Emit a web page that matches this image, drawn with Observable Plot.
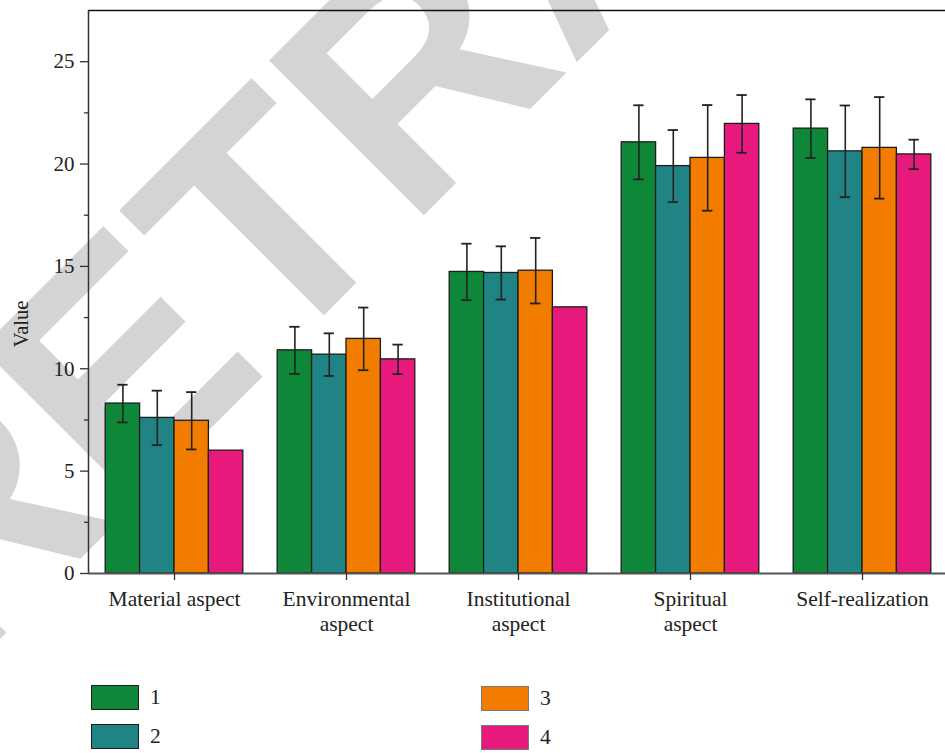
<!DOCTYPE html>
<html>
<head>
<meta charset="utf-8">
<script src="https://cdn.jsdelivr.net/npm/d3@7"></script>
<script src="https://cdn.jsdelivr.net/npm/@observablehq/plot@0.6"></script>
<style>
  html, body { margin: 0; padding: 0; background: #fff; }
  #chart { position: relative; width: 945px; height: 753px; overflow: hidden; }
  #chart > svg.wm { position: absolute; left: 0; top: 0; z-index: 0; }
  #chart > svg.plot-main { position: absolute; left: 0; top: 0; z-index: 1; }
  .legend-item { position: absolute; z-index: 2; display: flex; align-items: center;
    font-family: "Liberation Serif", serif; font-size: 21.5px; color: #222; }
  .legend-item .sw { width: 48px; height: 25px; box-sizing: border-box; margin-right: 11px; }
</style>
</head>
<body>
<div id="chart"></div>
<script>
// Categories along the x axis (line breaks as printed under the ticks)
const categories = ["Material aspect", "Environmental\naspect", "Institutional\naspect", "Spiritual\naspect", "Self-realization"];
const seriesNames = ["1", "2", "3", "4"];
const seriesColors = ["#0f8739", "#218484", "#f17c00", "#e8197d"];

// Mean values per series, one entry per category
const values1 = [8.3, 10.9, 14.73, 21.06, 21.73];
const values2 = [7.6, 10.69, 14.68, 19.9, 20.62];
const values3 = [7.46, 11.46, 14.79, 20.3, 20.79];
const values4 = [6.0, 10.46, 13.0, 21.96, 20.47];

// Error half-widths (null = no error bar)
const errors1 = [0.92, 1.15, 1.38, 1.81, 1.43];
const errors2 = [1.33, 1.04, 1.3, 1.76, 2.24];
const errors3 = [1.4, 1.53, 1.6, 2.58, 2.48];
const errors4 = [null, 0.72, null, 1.41, 0.72];

// Y axis
const yMax = 27.5;
const yTicks = [0, 5, 10, 15, 20, 25];
const yMinorTicks = [2.5, 7.5, 12.5, 17.5, 22.5];

const allValues = [values1, values2, values3, values4];
const allErrors = [errors1, errors2, errors3, errors4];

// Each category occupies one unit on x; its four bars fill 80% of it.
const groupWidth = 0.8;
const barWidth = groupWidth / seriesNames.length;
const capHalf = 0.03;

const rows = [];
categories.forEach((cat, i) => {
  seriesNames.forEach((s, k) => {
    const x1 = i - groupWidth / 2 + k * barWidth;
    const v = allValues[k][i];
    const e = allErrors[k][i];
    rows.push({
      category: cat, series: s, color: seriesColors[k],
      x1, x2: x1 + barWidth, xc: x1 + barWidth / 2,
      value: v, err: e,
      lo: e == null ? null : v - e, hi: e == null ? null : v + e
    });
  });
});
const errRows = rows.filter(d => d.err != null);

const axisStroke = "#333";

const plot = Plot.plot({
  width: 945,
  height: 660,
  marginTop: 10,
  marginLeft: 88,
  marginRight: -3,
  marginBottom: 87,
  x: { domain: [-0.5, categories.length - 0.5], axis: null },
  y: { domain: [0, yMax], axis: null },
  style: { background: "transparent", fontFamily: "Liberation Serif, serif", fontSize: "21px", color: "#222" },
  marks: [
    // bars
    Plot.rectY(rows, { x1: "x1", x2: "x2", y1: 0, y2: "value", fill: "color", stroke: "#1c1c1c", strokeWidth: 1.3 }),
    // error bars: stems and caps
    Plot.ruleX(errRows, { x: "xc", y1: "lo", y2: "hi", stroke: "#222", strokeWidth: 1.6 }),
    Plot.ruleY(errRows, { y: "hi", x1: d => d.xc - capHalf, x2: d => d.xc + capHalf, stroke: "#222", strokeWidth: 1.8 }),
    Plot.ruleY(errRows, { y: "lo", x1: d => d.xc - capHalf, x2: d => d.xc + capHalf, stroke: "#222", strokeWidth: 1.8 }),
    // frame: top line, left axis line, baseline
    Plot.ruleY([yMax], { stroke: "#111", strokeWidth: 1.5 }),
    Plot.ruleX([-0.5], { stroke: axisStroke, strokeWidth: 1.5 }),
    Plot.ruleY([0], { stroke: "#555", strokeWidth: 2 }),
    // y axis ticks and labels
    Plot.axisY({ ticks: yTicks, tickSize: 8, tickPadding: 6, stroke: axisStroke, strokeWidth: 1.3, label: null, fill: "#222", fontSize: 21 }),
    Plot.axisY({ ticks: yMinorTicks, tickSize: 4, text: null, stroke: axisStroke, strokeWidth: 1.3, label: null }),
    // x axis ticks and category labels
    Plot.axisX({
      ticks: d3.range(categories.length), tickSize: 7, tickPadding: 7,
      tickFormat: i => categories[i], lineHeight: 1.19, fontSize: 21.5,
      stroke: axisStroke, strokeWidth: 1.3, label: null, fill: "#222"
    }),
    // y axis title
    Plot.text(["Value"], { frameAnchor: "left", textAnchor: "middle", rotate: -90, dx: -67, dy: 32, fill: "#222", fontSize: 20.5 })
  ]
});
plot.classList.add("plot-main");

const chart = document.getElementById("chart");

// Background watermark
const W = 945, H = 753;
const wmX = -41, wmY = 680;
const wm = d3.create("svg").attr("class", "wm").attr("width", W).attr("height", H);
wm.append("text")
  .attr("x", wmX).attr("y", wmY)
  .attr("transform", `rotate(-45 ${wmX} ${wmY})`)
  .attr("font-family", "Liberation Sans, Arial, sans-serif")
  .attr("font-weight", "bold")
  .attr("font-size", 318)
  .attr("fill", "#d4d4d4")
  .text("RETRACTED");
chart.appendChild(wm.node());
chart.appendChild(plot);

// Legend: two columns, two rows
const legendPos = [[91, 685], [91, 724], [481, 686], [481, 725]];
const legendBorder = ["1.5px solid #1c1c1c", "1.5px solid #1c1c1c", "1px solid #7a7a7a", "1px solid #7a7a7a"];
seriesNames.forEach((s, k) => {
  const item = document.createElement("div");
  item.className = "legend-item";
  item.style.left = legendPos[k][0] + "px";
  item.style.top = legendPos[k][1] + "px";
  const sw = document.createElement("div");
  sw.className = "sw";
  sw.style.background = seriesColors[k];
  sw.style.border = legendBorder[k];
  const lab = document.createElement("span");
  lab.textContent = s;
  item.appendChild(sw);
  item.appendChild(lab);
  chart.appendChild(item);
});
</script>
</body>
</html>
